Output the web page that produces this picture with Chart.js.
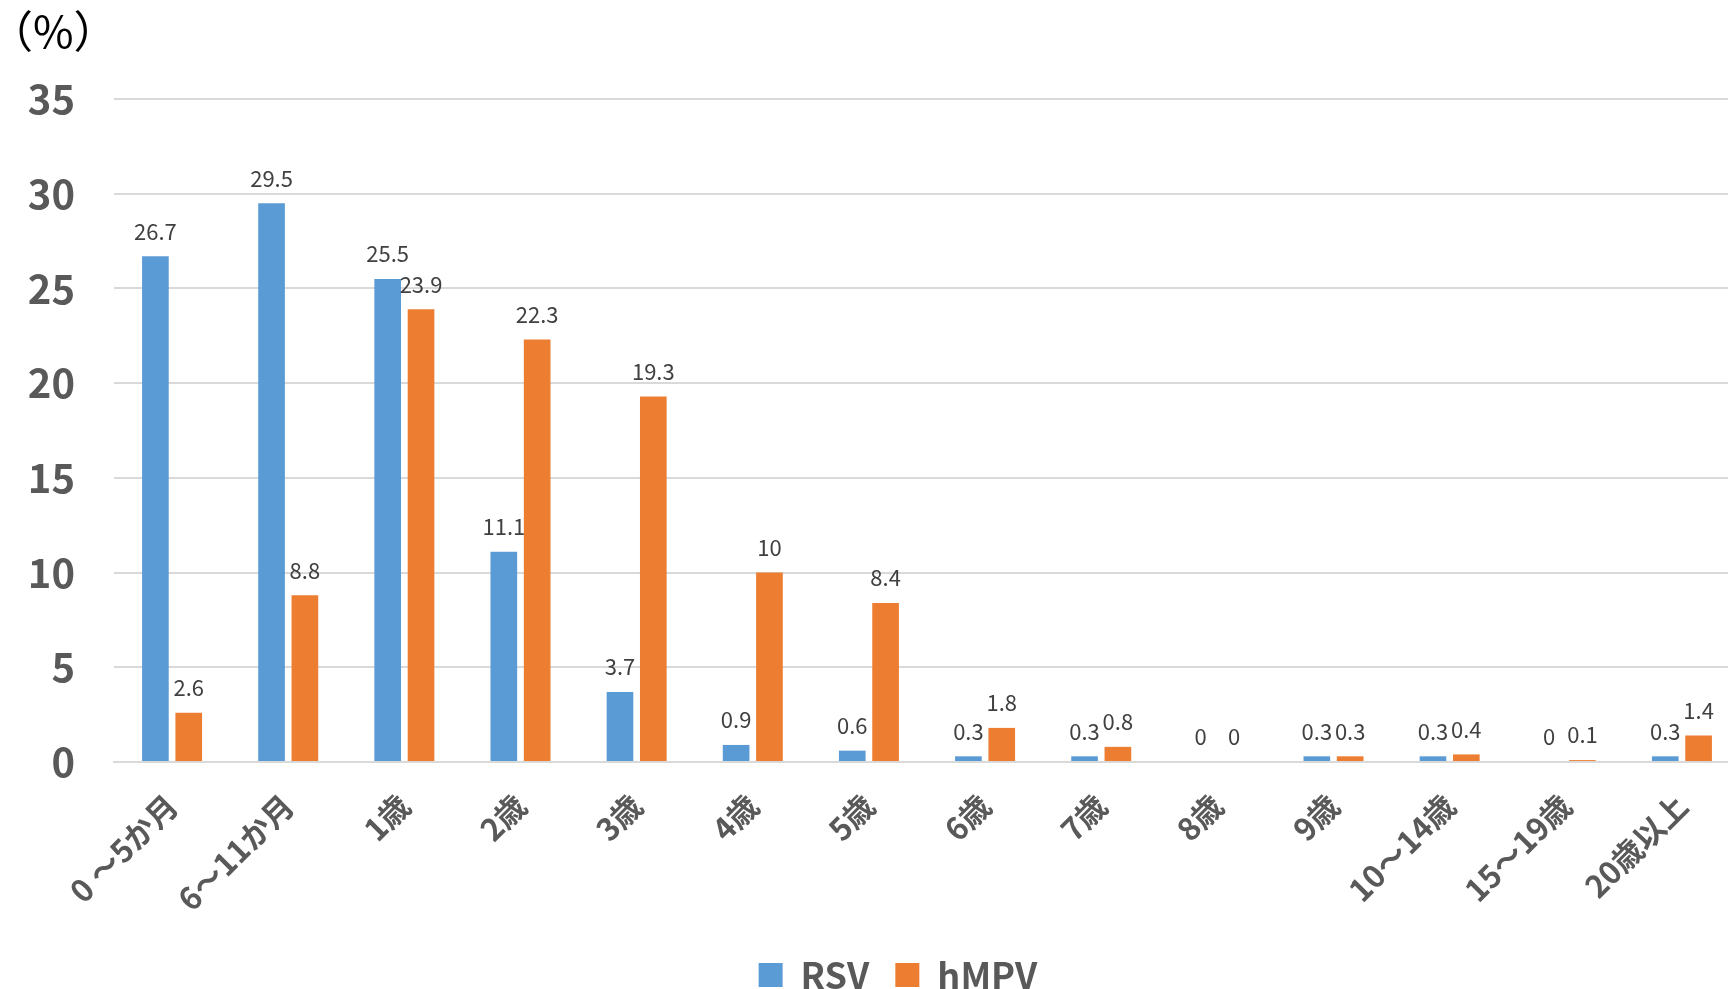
<!DOCTYPE html>
<html>
<head>
<meta charset="utf-8">
<script src="https://cdn.jsdelivr.net/npm/chart.js@4/dist/chart.umd.min.js"></script>
<style>
  html, body { margin: 0; padding: 0; background: #ffffff; overflow: hidden; }
  #wrap { position: relative; width: 1740px; height: 1003px; }
</style>
</head>
<body>
<div id="wrap"><canvas id="chart"></canvas></div>
<script>
// Age groups and positivity share (%) per virus
const ageGroups = ['0 ～5か月', '6～11か月', '1歳', '2歳', '3歳', '4歳', '5歳', '6歳', '7歳', '8歳', '9歳', '10～14歳', '15～19歳', '20歳以上'];
const rsvValues  = [26.7, 29.5, 25.5, 11.1, 3.7, 0.9, 0.6, 0.3, 0.3, 0, 0.3, 0.3, 0, 0.3];
const hmpvValues = [2.6, 8.8, 23.9, 22.3, 19.3, 10, 8.4, 1.8, 0.8, 0, 0.3, 0.4, 0.1, 1.4];
const yTicks = [0, 5, 10, 15, 20, 25, 30, 35];
const unitLabel = '（%）';

const FONT = '"Noto Sans CJK JP", "Noto Sans", sans-serif';

// Writes each bar's value just above it
const valueLabels = {
  id: 'valueLabels',
  afterDatasetsDraw(chart) {
    const ctx = chart.ctx;
    ctx.save();
    ctx.font = '22px ' + FONT;
    ctx.fillStyle = '#404040';
    ctx.textAlign = 'center';
    ctx.textBaseline = 'middle';
    chart.data.datasets.forEach((ds, i) => {
      chart.getDatasetMeta(i).data.forEach((bar, j) => {
        ctx.fillText(String(ds.data[j]), bar.x, bar.y - 25);
      });
    });
    ctx.restore();
  }
};

// Unit caption in the top-left corner
const unitCaption = {
  id: 'unitCaption',
  afterDraw(chart) {
    const ctx = chart.ctx;
    ctx.save();
    ctx.font = '44px ' + FONT;
    ctx.fillStyle = '#000000';
    ctx.textAlign = 'left';
    ctx.textBaseline = 'middle';
    ctx.fillText(unitLabel, -11, 31);
    ctx.restore();
  }
};

// Legend sits a little right of the canvas centre
const legendOffset = {
  id: 'legendOffset',
  afterLayout(chart) {
    const lg = chart.legend;
    if (lg) { lg.left += 28; lg.right += 28; }
  }
};

new Chart(document.getElementById('chart'), {
  type: 'bar',
  data: {
    labels: ageGroups,
    datasets: [
      { label: 'RSV',  data: rsvValues,  backgroundColor: '#5B9BD5', borderWidth: 0 },
      { label: 'hMPV', data: hmpvValues, backgroundColor: '#ED7D31', borderWidth: 0 }
    ]
  },
  options: {
    responsive: true,
    maintainAspectRatio: false,
    animation: false,
    datasets: { bar: { categoryPercentage: 0.574, barPercentage: 0.8 } },
    layout: { padding: { top: 99, left: 0, right: 0, bottom: 0 } },
    plugins: {
      legend: {
        position: 'bottom',
        labels: {
          font: { family: FONT, size: 36, weight: 'bold' },
          color: '#595959',
          boxWidth: 24,
          boxHeight: 24,
          padding: 26
        }
      },
      tooltip: { enabled: false }
    },
    scales: {
      x: {
        grid: { display: false, drawTicks: false },
        border: { display: true, color: '#D9D9D9', width: 2 },
        ticks: {
          font: { family: FONT, size: 31, weight: 'bold' },
          color: '#595959',
          maxRotation: 45,
          minRotation: 45,
          autoSkip: false,
          padding: 25
        },
        afterFit(scale) { scale.height = 169; }
      },
      y: {
        min: 0,
        max: 35,
        afterBuildTicks(scale) { scale.ticks = yTicks.map(v => ({ value: v })); },
        grid: { color: '#D9D9D9', lineWidth: 2, drawTicks: false },
        border: { display: false },
        ticks: {
          font: { family: FONT, size: 40, weight: 'bold' },
          color: '#595959',
          padding: 39
        },
        afterFit(scale) { scale.width = 114; }
      }
    }
  },
  plugins: [valueLabels, unitCaption, legendOffset]
});
</script>
</body>
</html>
